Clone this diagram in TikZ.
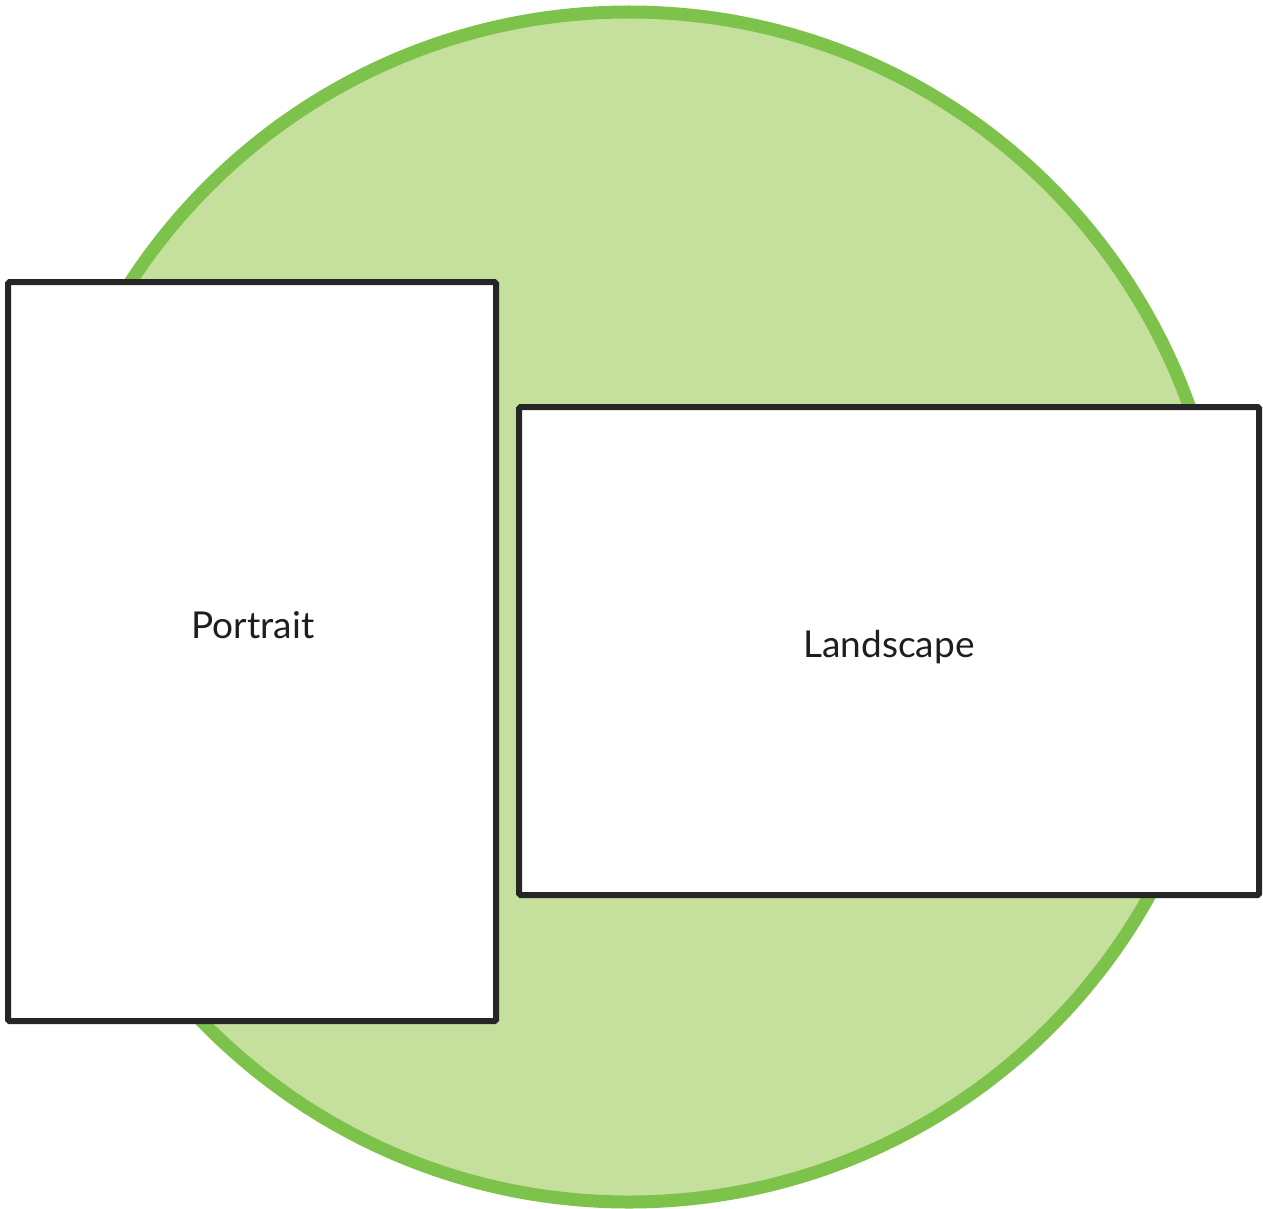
\documentclass[tikz,border=0pt]{standalone}
\usepackage{fontspec}
\setmainfont{Lato}
\definecolor{ringgreen}{RGB}{125,194,74}
\definecolor{fillgreen}{RGB}{197,224,157}
\definecolor{boxline}{RGB}{38,38,38}
\definecolor{txt}{RGB}{30,30,30}
\begin{document}
\begin{tikzpicture}[x=1pt,y=-1pt,
  sheet/.style={draw=boxline, line width=6pt, fill=white, rounded corners=1.5pt},
  lbl/.style={text=txt, font=\fontsize{37}{40}\selectfont, inner sep=0pt}]
\useasboundingbox (0,0) rectangle (1263,1209);
\draw[draw=ringgreen, fill=fillgreen, line width=13pt] (629,607) circle (595);
\draw[sheet] (8,282) rectangle (496,1021);
\draw[sheet] (519,407) rectangle (1259,895);
\node[lbl] (portrait) at (253,625) {Portrait};
\node[lbl] (landscape) at (889,647) {Landscape};
\end{tikzpicture}
\end{document}
